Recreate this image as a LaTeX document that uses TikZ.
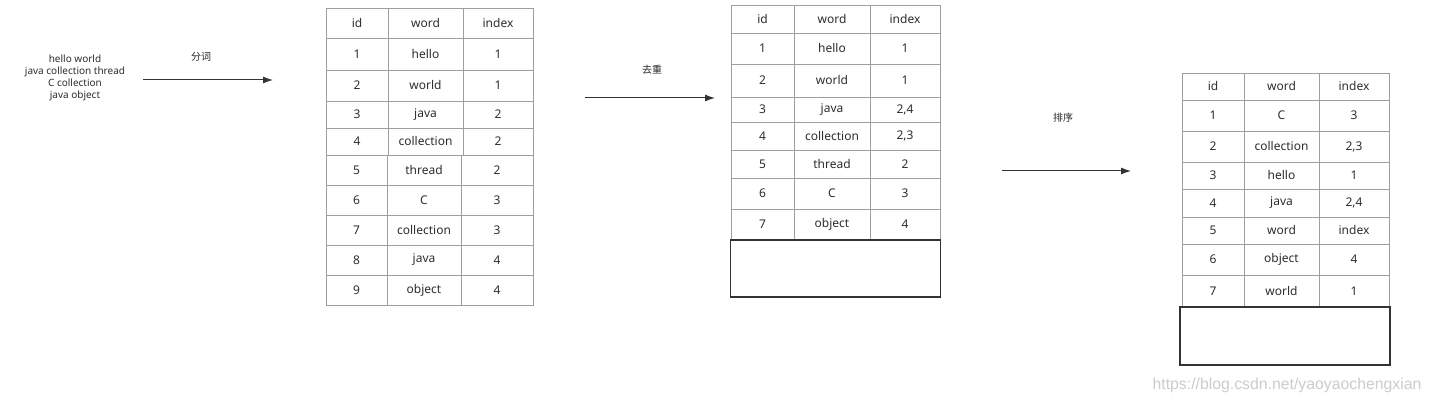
\documentclass[tikz,border=0pt]{standalone}
\usepackage{fontspec}
\setmainfont{Noto Sans}
\newfontfamily\cjk{Noto Sans CJK SC}
\newfontfamily\wmfont{Liberation Sans}
\usetikzlibrary{arrows.meta}
\newcommand{\mkcell}[6]{\node[cellbox, minimum width={(#4-#2)*1pt}, minimum height={(#5-#3)*1pt}] (#1) at ({(#2+#4)/2},{(#3+#5)/2}) {#6};}
\begin{document}
\begin{tikzpicture}[x=1pt,y=-1pt,
  cellbox/.style={draw=black!38, line width=0.9pt, inner sep=0pt, text=black!82, font=\fontsize{12}{14}\selectfont},
  emptybox/.style={draw=black!80, line width=1.4pt, inner sep=0pt},
  flow/.style={draw=black!80, line width=1pt, -{Latex[length=10pt,width=7pt]}},
  steplabel/.style={text=black!85, font=\cjk\fontsize{10}{12}\selectfont, inner sep=0pt},
  srctext/.style={text=black!82, align=center, inner sep=0pt, font=\fontsize{10}{12}\selectfont}]
\useasboundingbox (0,0) rectangle (1430,403);
\fill[white] (0,0) rectangle (1430,403);

% source text
\node[srctext] (src) at (75,78) {hello world\\java collection thread\\C collection\\java object};

% table 1
\mkcell{a-h-1}{326}{8}{388}{38}{id}
\mkcell{a-h-2}{388}{8}{463}{38}{word}
\mkcell{a-h-3}{463}{8}{533}{38}{index}
\mkcell{a-1-1}{326}{38}{388}{70}{1}
\mkcell{a-1-2}{388}{38}{463}{70}{hello}
\mkcell{a-1-3}{463}{38}{533}{70}{1}
\mkcell{a-2-1}{326}{70}{388}{101}{2}
\mkcell{a-2-2}{388}{70}{463}{101}{world}
\mkcell{a-2-3}{463}{70}{533}{101}{1}
\mkcell{a-3-1}{326}{101}{388}{128}{3}
\mkcell{a-3-2}{388}{101}{463}{128}{java}
\mkcell{a-3-3}{463}{101}{533}{128}{2}
\mkcell{a-4-1}{326}{128}{388}{155}{4}
\mkcell{a-4-2}{388}{128}{463}{155}{collection}
\mkcell{a-4-3}{463}{128}{533}{155}{2}
\mkcell{a-5-1}{326}{155}{387}{185}{5}
\mkcell{a-5-2}{387}{155}{461}{185}{thread}
\mkcell{a-5-3}{461}{155}{533}{185}{2}
\mkcell{a-6-1}{326}{185}{387}{215}{6}
\mkcell{a-6-2}{387}{185}{461}{215}{C}
\mkcell{a-6-3}{461}{185}{533}{215}{3}
\mkcell{a-7-1}{326}{215}{387}{245}{7}
\mkcell{a-7-2}{387}{215}{461}{245}{collection}
\mkcell{a-7-3}{461}{215}{533}{245}{3}
\mkcell{a-8-1}{326}{245}{387}{275}{8}
\mkcell{a-8-2}{387}{245}{461}{275}{java}
\mkcell{a-8-3}{461}{245}{533}{275}{4}
\mkcell{a-9-1}{326}{275}{387}{305}{9}
\mkcell{a-9-2}{387}{275}{461}{305}{object}
\mkcell{a-9-3}{461}{275}{533}{305}{4}

% table 2
\mkcell{b-h-1}{731}{5}{794}{33}{id}
\mkcell{b-h-2}{794}{5}{870}{33}{word}
\mkcell{b-h-3}{870}{5}{940}{33}{index}
\mkcell{b-1-1}{731}{33}{794}{64}{1}
\mkcell{b-1-2}{794}{33}{870}{64}{hello}
\mkcell{b-1-3}{870}{33}{940}{64}{1}
\mkcell{b-2-1}{731}{64}{794}{97}{2}
\mkcell{b-2-2}{794}{64}{870}{97}{world}
\mkcell{b-2-3}{870}{64}{940}{97}{1}
\mkcell{b-3-1}{731}{97}{794}{122}{3}
\mkcell{b-3-2}{794}{97}{870}{122}{java}
\mkcell{b-3-3}{870}{97}{940}{122}{2,4}
\mkcell{b-4-1}{731}{122}{794}{150}{4}
\mkcell{b-4-2}{794}{122}{870}{150}{collection}
\mkcell{b-4-3}{870}{122}{940}{150}{2,3}
\mkcell{b-5-1}{731}{150}{794}{178}{5}
\mkcell{b-5-2}{794}{150}{870}{178}{thread}
\mkcell{b-5-3}{870}{150}{940}{178}{2}
\mkcell{b-6-1}{731}{178}{794}{209}{6}
\mkcell{b-6-2}{794}{178}{870}{209}{C}
\mkcell{b-6-3}{870}{178}{940}{209}{3}
\mkcell{b-7-1}{731}{209}{794}{240}{7}
\mkcell{b-7-2}{794}{209}{870}{240}{object}
\mkcell{b-7-3}{870}{209}{940}{240}{4}
\node[emptybox, minimum width=210pt, minimum height=57pt] (b-empty) at (835.5,268.5) {};

% table 3
\mkcell{c-h-1}{1182}{73}{1244}{100}{id}
\mkcell{c-h-2}{1244}{73}{1319}{100}{word}
\mkcell{c-h-3}{1319}{73}{1389}{100}{index}
\mkcell{c-1-1}{1182}{100}{1244}{131}{1}
\mkcell{c-1-2}{1244}{100}{1319}{131}{C}
\mkcell{c-1-3}{1319}{100}{1389}{131}{3}
\mkcell{c-2-1}{1182}{131}{1244}{162}{2}
\mkcell{c-2-2}{1244}{131}{1319}{162}{collection}
\mkcell{c-2-3}{1319}{131}{1389}{162}{2,3}
\mkcell{c-3-1}{1182}{162}{1244}{189}{3}
\mkcell{c-3-2}{1244}{162}{1319}{189}{hello}
\mkcell{c-3-3}{1319}{162}{1389}{189}{1}
\mkcell{c-4-1}{1182}{189}{1244}{217}{4}
\mkcell{c-4-2}{1244}{189}{1319}{217}{java}
\mkcell{c-4-3}{1319}{189}{1389}{217}{2,4}
\mkcell{c-5-1}{1182}{217}{1244}{244}{5}
\mkcell{c-5-2}{1244}{217}{1319}{244}{word}
\mkcell{c-5-3}{1319}{217}{1389}{244}{index}
\mkcell{c-6-1}{1182}{244}{1244}{275}{6}
\mkcell{c-6-2}{1244}{244}{1319}{275}{object}
\mkcell{c-6-3}{1319}{244}{1389}{275}{4}
\mkcell{c-7-1}{1182}{275}{1244}{307}{7}
\mkcell{c-7-2}{1244}{275}{1319}{307}{world}
\mkcell{c-7-3}{1319}{275}{1389}{307}{1}
\node[emptybox, minimum width=210pt, minimum height=58pt] (c-empty) at (1285,336) {};

% arrows
\coordinate (a1s) at (143,80);
\coordinate (a1e) at (273,80);
\coordinate (a2s) at (585,98);
\coordinate (a2e) at (715,98);
\coordinate (a3s) at (1002,171);
\coordinate (a3e) at (1131,171);
\draw[flow] (a1s) -- (a1e);
\draw[flow] (a2s) -- (a2e);
\draw[flow] (a3s) -- (a3e);
\node[steplabel] (l1) at (201,57) {分词};
\node[steplabel] (l2) at (652,70) {去重};
\node[steplabel] (l3) at (1063,118) {排序};

% watermark
\node[text=black!20, font=\wmfont\fontsize{15.8}{18}\selectfont, inner sep=0pt] (wm) at (1287,385) {https://blog.csdn.net/yaoyaochengxian};
\end{tikzpicture}
\end{document}
